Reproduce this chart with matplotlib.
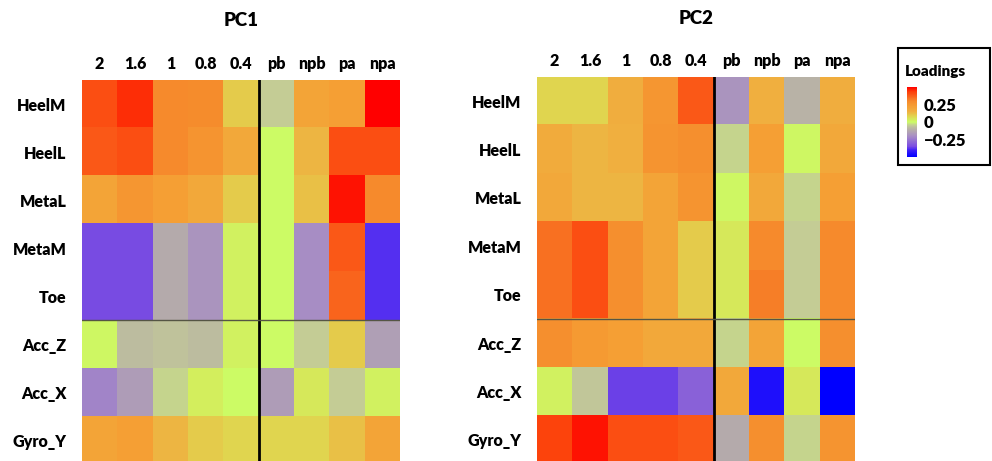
import numpy as np
import matplotlib
matplotlib.use('Agg')
from matplotlib import pyplot as plt
from matplotlib.colors import LinearSegmentedColormap, Normalize
from matplotlib.patches import Rectangle

plt.rcParams['font.family'] = ['Lato', 'DejaVu Sans']
WEIGHT = 'heavy'

columns = ['2', '1.6', '1', '0.8', '0.4', 'pb', 'npb', 'pa', 'npa']
rows = ['HeelM', 'HeelL', 'MetaL', 'MetaM', 'Toe', 'Acc_Z', 'Acc_X', 'Gyro_Y']

# loadings, one list per sensor row
pc1 = [
    [0.40, 0.45, 0.30, 0.29, 0.10, -0.05, 0.20, 0.22, 0.50],
    [0.38, 0.40, 0.30, 0.26, 0.18, 0.00, 0.14, 0.40, 0.40],
    [0.20, 0.25, 0.22, 0.18, 0.10, 0.00, 0.12, 0.48, 0.30],
    [-0.35, -0.35, -0.12, -0.18, 0.02, 0.00, -0.20, 0.38, -0.38],
    [-0.35, -0.35, -0.12, -0.18, 0.02, 0.00, -0.20, 0.36, -0.38],
    [0.01, -0.08, -0.07, -0.08, 0.02, 0.00, -0.05, 0.10, -0.15],
    [-0.22, -0.16, -0.04, 0.03, 0.00, -0.16, 0.04, -0.05, 0.02],
    [0.20, 0.22, 0.14, 0.10, 0.08, 0.08, 0.08, 0.12, 0.20],
]

pc2 = [
    [0.08, 0.08, 0.16, 0.25, 0.38, -0.18, 0.15, -0.10, 0.16],
    [0.17, 0.14, 0.15, 0.26, 0.28, -0.04, 0.22, 0.01, 0.18],
    [0.18, 0.14, 0.14, 0.20, 0.26, 0.01, 0.18, -0.04, 0.22],
    [0.34, 0.40, 0.28, 0.20, 0.10, 0.04, 0.30, -0.05, 0.30],
    [0.34, 0.40, 0.28, 0.20, 0.10, 0.04, 0.32, -0.05, 0.30],
    [0.28, 0.24, 0.22, 0.18, 0.18, -0.04, 0.20, 0.00, 0.28],
    [0.02, -0.06, -0.36, -0.36, -0.30, 0.18, -0.45, 0.04, -0.50],
    [0.42, 0.48, 0.40, 0.40, 0.38, -0.12, 0.28, -0.04, 0.26],
]

cbar_ticks = [0.25, 0, -0.25]
cbar_labels = ['0.25', '0', '\u22120.25']

# blue -> purple -> grey -> lime at zero -> yellow -> orange -> red
cmap = LinearSegmentedColormap.from_list('loadings', [
    (0.00, '#0000ff'),
    (0.10, '#4020f8'),
    (0.15, '#7a4ce2'),
    (0.30, '#a88ec4'),
    (0.40, '#b8b2a6'),
    (0.45, '#c4cc96'),
    (0.50, '#ccfc66'),
    (0.58, '#e0d650'),
    (0.65, '#f0b040'),
    (0.72, '#f5a035'),
    (0.80, '#f68a2c'),
    (0.88, '#fa5a18'),
    (0.94, '#fd3a08'),
    (1.00, '#ff0000'),
])
norm = Normalize(vmin=-0.5, vmax=0.5)

W, H = 992, 461
fig = plt.figure(figsize=(W / 100, H / 100), dpi=100)


def heatmap(left, top, right, bottom, values, title, title_y):
    ax = fig.add_axes([left / W, 1 - bottom / H, (right - left) / W, (bottom - top) / H])
    ax.imshow(np.array(values), cmap=cmap, norm=norm, aspect='auto',
              interpolation='nearest')
    ax.set_xticks(range(len(columns)))
    ax.set_xticklabels(columns, fontsize=11.5, fontweight=WEIGHT)
    ax.set_yticks(range(len(rows)))
    ax.set_yticklabels(rows, fontsize=11.5, fontweight=WEIGHT)
    ax.xaxis.tick_top()
    ax.tick_params(axis='x', length=0, pad=6)
    ax.tick_params(axis='y', length=0, pad=11)
    for s in ax.spines.values():
        s.set_visible(False)
    # separators: numeric columns | pressure columns, and foot | IMU rows
    ax.axvline(4.5, color='black', lw=2)
    ax.axhline(4.5, color='#555544', lw=1)
    fig.text((left + right) / 2 / W, 1 - title_y / H, title,
             ha='center', va='center', fontsize=13.5, fontweight=WEIGHT)
    return ax


heatmap(82, 80, 400, 464, pc1, 'PC1', 20)
heatmap(537, 77, 855, 464, pc2, 'PC2', 18)

# legend box with the colour scale
fig.patches.append(Rectangle((898 / W, 1 - 165 / H), 92 / W, 117 / H,
                             transform=fig.transFigure, fill=False,
                             edgecolor='black', lw=1.5))
fig.text(905 / W, 1 - 71 / H, 'Loadings', ha='left', va='center',
         fontsize=11, fontweight=WEIGHT)
cax = fig.add_axes([907 / W, 1 - 157 / H, 10 / W, 70 / H])
sm = plt.cm.ScalarMappable(norm=norm, cmap=cmap)
cb = fig.colorbar(sm, cax=cax, ticks=cbar_ticks)
cb.outline.set_visible(False)
cb.ax.set_yticklabels(cbar_labels, fontsize=12, fontweight=WEIGHT)
cb.ax.tick_params(length=0, pad=5)

fig.savefig('out.png', dpi=100)
